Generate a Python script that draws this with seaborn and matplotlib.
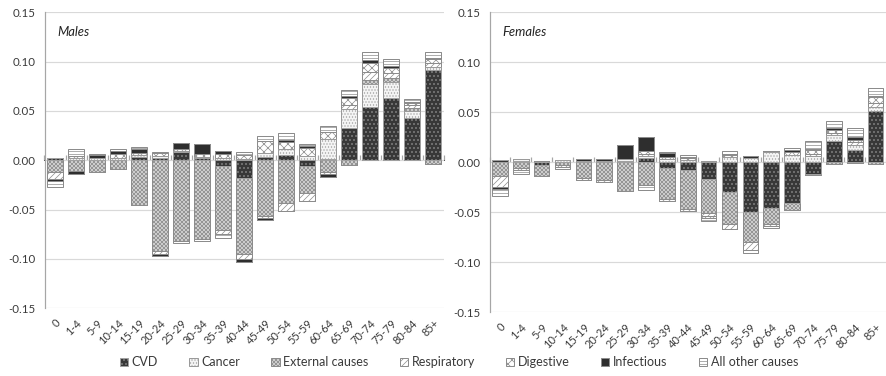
import numpy as np
import pandas as pd
import matplotlib
matplotlib.use("Agg")
import matplotlib.pyplot as plt
from matplotlib.patches import Patch
import seaborn as sns

# ---- data: contribution of each cause of death, by age group ----
ages = ["0", "1-4", "5-9", "10-14", "15-19", "20-24", "25-29", "30-34", "35-39",
        "40-44", "45-49", "50-54", "55-59", "60-64", "65-69", "70-74", "75-79",
        "80-84", "85+"]
causes = ["CVD", "Cancer", "External causes", "Respiratory", "Digestive",
          "Infectious", "All other causes"]

male_cvd = [0.002, 0, 0, 0, 0.003, 0.002, 0.008, 0.002, -0.006, -0.018, 0.003,
            0.005, -0.006, 0.001, 0.033, 0.054, 0.063, 0.043, 0.092]
male_cancer = [0, 0.002, 0.002, 0.002, 0.002, 0.002, 0.001, 0.001, 0.002, 0.001,
               0.004, 0.006, 0.004, 0.021, 0.019, 0.023, 0.016, 0.007, 0.003]
male_external = [-0.012, -0.011, -0.012, -0.0085, -0.045, -0.092, -0.082, -0.080,
                 -0.065, -0.077, -0.056, -0.043, -0.027, -0.012, -0.005, 0.004,
                 0.004, 0.003, -0.004]
male_resp = [-0.007, 0, 0, 0, 0, -0.003, 0, 0, -0.004, -0.005, -0.002, -0.008,
             -0.008, -0.002, 0.004, 0.008, 0.005, 0.003, 0.004]
male_digestive = [0, 0.002, 0, 0.004, 0.002, 0.0035, 0.002, 0.003, 0.004, 0.004,
                  0.013, 0.008, 0.008, 0.007, 0.007, 0.010, 0.006, 0.002, 0.004]
male_infectious = [-0.002, -0.0025, 0.003, 0.003, 0.004, -0.002, 0.007, 0.011,
                   0.003, -0.003, -0.003, 0.002, 0.002, -0.003, 0.002, 0.003,
                   0.002, 0.001, 0.001]
male_other = [-0.006, 0.0075, 0.001, 0.002, 0.0025, 0.001, -0.0015, -0.002,
              -0.004, 0.003, 0.005, 0.007, 0.003, 0.006, 0.006, 0.008, 0.007,
              0.003, 0.006]

female_cvd = [0.0023, 0.001, -0.003, 0, 0.001, 0.001, 0.001, 0.004, -0.006,
              -0.008, -0.017, -0.030, -0.050, -0.046, -0.041, -0.012, 0.021,
              0.012, 0.051]
female_cancer = [0, 0.0027, 0, 0.0023, 0, 0, 0.002, 0.002, 0.003, 0.002, 0.001,
                 0.005, 0.004, 0.010, 0.007, 0.006, 0.006, 0.005, 0.004]
female_external = [-0.014, -0.006, -0.0107, -0.003, -0.016, -0.018, -0.029,
                   -0.023, -0.031, -0.039, -0.034, -0.032, -0.030, -0.016,
                   -0.007, -0.001, -0.002, -0.001, -0.002]
female_resp = [-0.011, 0, 0, 0, -0.0017, -0.002, 0, 0.002, -0.002, -0.002,
               -0.003, -0.005, -0.008, -0.002, 0, 0.002, 0.002, 0.003, 0.004]
female_digestive = [0, -0.002, 0, -0.002, 0, 0, 0, 0.003, 0.002, 0.002, -0.002,
                    0.002, 0, 0, 0.003, 0.004, 0.003, 0.002, 0.006]
female_infectious = [-0.002, 0, 0.001, 0, 0.0027, 0.0027, 0.0147, 0.0147, 0.004,
                     0.001, 0, 0.0017, 0.002, 0.001, 0.002, 0.001, 0.002, 0.003,
                     0.001]
female_other = [-0.007, -0.004, 0, -0.0017, 0, 0, 0, -0.0047, 0.001, 0.002,
                -0.003, 0.003, -0.003, -0.002, 0.0027, 0.0087, 0.0077, 0.009,
                0.008]

panels = {
    "Males": [male_cvd, male_cancer, male_external, male_resp, male_digestive,
              male_infectious, male_other],
    "Females": [female_cvd, female_cancer, female_external, female_resp,
                female_digestive, female_infectious, female_other],
}

# ---- fill / hatch style of each cause (grayscale print look) ----
styles = {
    "CVD":              dict(facecolor="#383838", hatch="...", edgecolor="#a0a0a0"),
    "Cancer":           dict(facecolor="#f4f4f4", hatch="....", edgecolor="#9a9a9a"),
    "External causes":  dict(facecolor="#d6d6d6", hatch="xxxxxx", edgecolor="#8c8c8c"),
    "Respiratory":      dict(facecolor="#ffffff", hatch="////", edgecolor="#8c8c8c"),
    "Digestive":        dict(facecolor="#ffffff", hatch="xxx", edgecolor="#8c8c8c"),
    "Infectious":       dict(facecolor="#2e2e2e", hatch=None, edgecolor="#8c8c8c"),
    "All other causes": dict(facecolor="#ffffff", hatch="----", edgecolor="#8c8c8c"),
}

sns.set_style("white")
FONT = ["Lato", "Liberation Sans", "DejaVu Sans"]
plt.rcParams["font.family"] = FONT
plt.rcParams["hatch.linewidth"] = 0.7

TXT = "#3a3a3a"
GRID = "#d9d9d9"
AXC = "#a6a6a6"

# 72 dpi: one point equals one pixel, so hatch spacing lands on whole pixels
DPI = 72
W, H = 886, 376
fig = plt.figure(figsize=(W / DPI, H / DPI), dpi=DPI)
axes_px = {"Males": (44.5, 12.3, 443.8, 308.3),
           "Females": (489.5, 12.3, 886.0, 312.3)}


def long_table(values):
    rows = []
    for cause, vals in zip(causes, values):
        for age, v in zip(ages, vals):
            rows.append({"age": age, "cause": cause, "value": v})
    return pd.DataFrame(rows)


for name, values in panels.items():
    x0, y0, x1, y1 = axes_px[name]
    ax = fig.add_axes([x0 / W, 1 - y1 / H, (x1 - x0) / W, (y1 - y0) / H])
    df = long_table(values)
    df["cause"] = pd.Categorical(df["cause"], categories=causes, ordered=True)
    df["age"] = pd.Categorical(df["age"], categories=ages, ordered=True)
    df = df.sort_values(["age", "cause"])
    df["pos"] = df["value"].clip(lower=0)
    df["neg"] = df["value"].clip(upper=0)
    df["cum_pos"] = df.groupby("age", observed=True)["pos"].cumsum()
    df["cum_neg"] = df.groupby("age", observed=True)["neg"].cumsum()

    # stacked segments: draw cumulative bars from the outermost cause inwards
    for col in ["cum_pos", "cum_neg"]:
        for cause in reversed(causes):
            st = styles[cause]
            sub = df[df["cause"] == cause]
            sns.barplot(data=sub, x="age", y=col, order=ages, ax=ax,
                        color=st["facecolor"], saturation=1, errorbar=None,
                        width=0.75, edgecolor=st["edgecolor"], linewidth=1.0,
                        hatch=st["hatch"], zorder=3)

    ax.set_ylim(-0.15, 0.15)
    ax.set_xlim(-0.5, len(ages) - 0.5)
    ticks = np.arange(-0.15, 0.151, 0.05)
    ax.set_yticks(ticks)
    ax.set_yticklabels([f"{t:.2f}" for t in ticks])
    ax.yaxis.grid(True, color=GRID, linewidth=1.2, zorder=0)
    ax.set_axisbelow(True)
    ax.set_xlabel("")
    ax.set_ylabel("")
    for s in ["top", "right", "bottom"]:
        ax.spines[s].set_visible(False)
    ax.spines["left"].set_color(AXC)
    ax.spines["left"].set_linewidth(1.2)
    ax.tick_params(axis="y", direction="out", length=4, width=1.2, color=AXC,
                   labelsize=11.5, labelcolor=TXT, pad=5)
    ax.set_xticks(range(len(ages)))
    ax.set_xticklabels(ages, rotation=45, ha="right", rotation_mode="anchor")
    ax.tick_params(axis="x", length=0, labelsize=11, labelcolor=TXT, pad=9)

    # horizontal category axis crossing at zero, ticks between groups
    sec = ax.secondary_xaxis(0.5)
    sec.set_xticks(np.arange(-0.5, len(ages), 1.0))
    sec.set_xticklabels([])
    sec.tick_params(direction="out", length=5, width=1.2, color=AXC)
    sec.spines["bottom"].set_color(AXC)
    sec.spines["bottom"].set_linewidth(1.6)

    ax.text(0.032, 0.955, name, transform=ax.transAxes, fontsize=13,
            fontstyle="italic", color="#222222", va="top", ha="left")

handles = []
for cause in causes:
    st = styles[cause]
    handles.append(Patch(facecolor=st["facecolor"], edgecolor=st["edgecolor"],
                         hatch=st["hatch"], linewidth=1.0, label=cause))
fig.legend(handles=handles, loc="center", bbox_to_anchor=(0.518, 0.036),
           ncol=7, frameon=False, fontsize=12.5, handlelength=0.65,
           handleheight=0.7, handletextpad=0.3, columnspacing=2.5,
           labelcolor=TXT)

fig.savefig("out.png", dpi=DPI)
